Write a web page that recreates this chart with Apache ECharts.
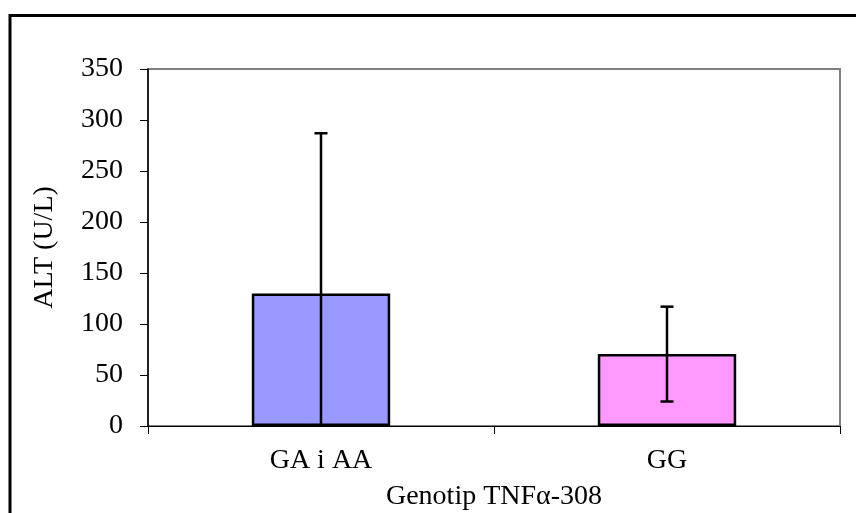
<!DOCTYPE html>
<html><head><meta charset="utf-8">
<script src="https://cdn.jsdelivr.net/npm/echarts@6/dist/echarts.min.js"></script>
<style>html,body{margin:0;padding:0;background:#fff}#c{width:856px;height:513px}</style>
</head><body><div id="c"></div>
<script>
const categories = ['GA i AA', 'GG'];
const means = [130, 70.5];
const sds = [157, 46.5];
const barColors = ['#9999FF', '#FF99FF'];
const yTicks = [0, 50, 100, 150, 200, 250, 300, 350];

const font = 'Liberation Serif, Times New Roman, serif';
const chart = echarts.init(document.getElementById('c'), null, {renderer: 'canvas'});
const errData = categories.map((c, i) => [i, means[i] - sds[i], means[i] + sds[i]]);

chart.setOption({
  animation: false,
  graphic: [{
    type: 'rect', shape: {x: 10, y: 15.5, width: 900, height: 600},
    style: {fill: 'none', stroke: '#000', lineWidth: 3}, z: 100
  }],
  grid: {left: 148, right: 16, top: 69, bottom: 87, show: true, borderColor: '#808080', borderWidth: 2,
         backgroundColor: 'transparent', containLabel: false, outerBoundsMode: 'none'},
  xAxis: {
    type: 'category', data: categories,
    axisLine: {lineStyle: {color: '#000', width: 1}},
    axisTick: {show: true, length: 8, alignWithLabel: false, lineStyle: {color: '#000'}},
    axisLabel: {fontFamily: font, fontSize: 28, color: '#000', margin: 21},
    name: 'Genotip TNFα-308', nameLocation: 'middle', nameGap: 57, nameMoveOverlap: false,
    nameTextStyle: {fontFamily: font, fontSize: 28, color: '#000'}
  },
  yAxis: {
    type: 'value', min: yTicks[0], max: yTicks[yTicks.length - 1], interval: 50,
    axisLine: {show: true, lineStyle: {color: '#000', width: 1.5}},
    axisTick: {show: true, length: 8, lineStyle: {color: '#000'}},
    splitLine: {show: false},
    axisLabel: {fontFamily: font, fontSize: 28, color: '#000', margin: 25},
    name: 'ALT (U/L)', nameLocation: 'middle', nameGap: 89, nameRotate: 90, nameMoveOverlap: false,
    nameTextStyle: {fontFamily: font, fontSize: 28, color: '#000'}
  },
  series: [{
    type: 'bar', barWidth: '40%',
    data: means.map((v, i) => ({value: v, itemStyle: {color: barColors[i]}})),
    itemStyle: {borderColor: '#000', borderWidth: 2.5}
  }, {
    type: 'custom', clip: true, z: 10,
    data: errData,
    renderItem: function (params, api) {
      const x = api.value(0);
      const lo = api.coord([x, api.value(1)]);
      const hi = api.coord([x, api.value(2)]);
      const half = 6.5;
      const st = {stroke: '#000', lineWidth: 2.5};
      return {type: 'group', children: [
        {type: 'line', shape: {x1: hi[0], y1: hi[1], x2: lo[0], y2: lo[1]}, style: st},
        {type: 'line', shape: {x1: hi[0] - half, y1: hi[1], x2: hi[0] + half, y2: hi[1]}, style: st},
        {type: 'line', shape: {x1: lo[0] - half, y1: lo[1], x2: lo[0] + half, y2: lo[1]}, style: st}
      ]};
    }
  }]
});
</script></body></html>
